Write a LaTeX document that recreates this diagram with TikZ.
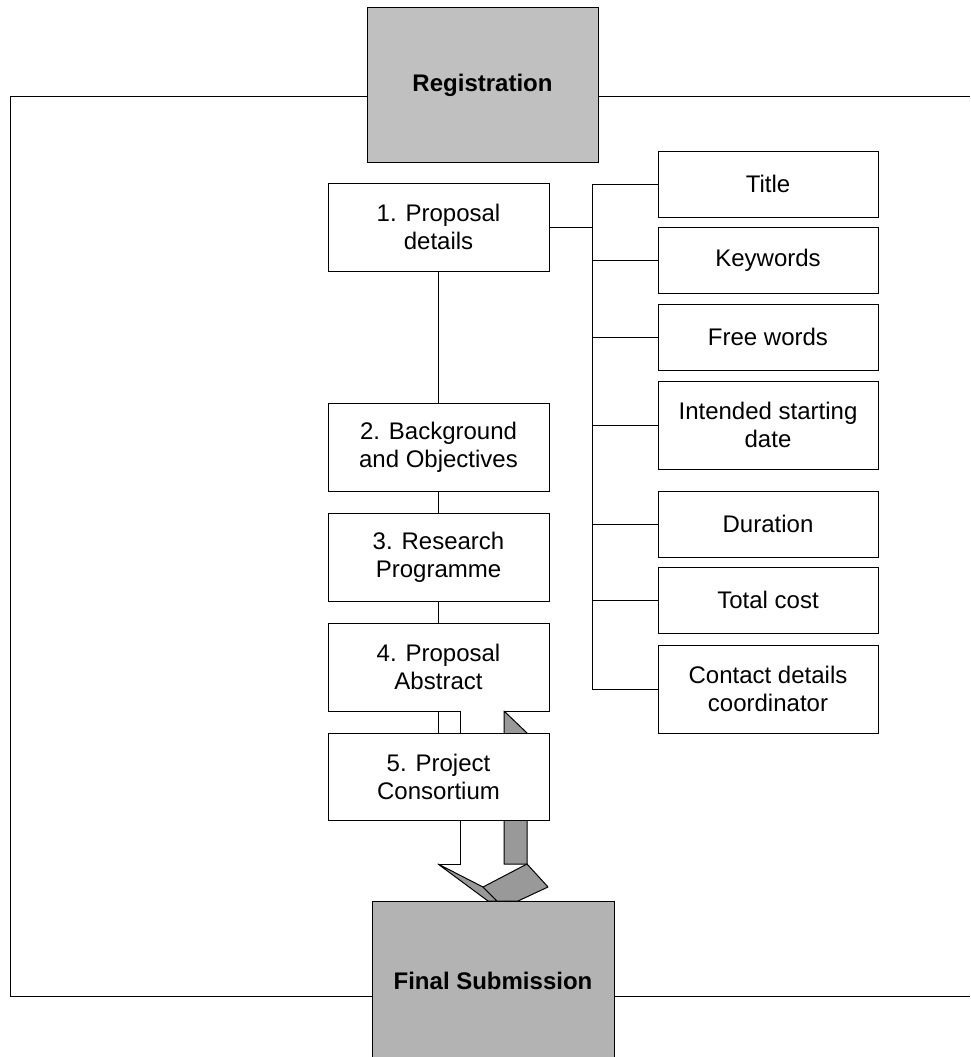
\documentclass[tikz,border=0pt]{standalone}
\usepackage{fontspec}
\setmainfont{Liberation Sans}
\begin{document}
\begin{tikzpicture}[x=1pt,y=-1pt,
  box/.style={draw=black,line width=1pt,fill=white,minimum width=221pt,minimum height=88pt,
    align=center,inner sep=0pt,font=\fontsize{24}{28}\selectfont},
  rbox/.style={box,minimum width=220pt},
  gbox/.style={draw=black,line width=1pt,inner sep=0pt,font=\fontsize{24}{28}\selectfont\bfseries},
  ln/.style={draw=black,line width=1pt},
  side/.style={draw=black,line width=1pt,fill=arrgray,line join=round}]
\definecolor{arrgray}{HTML}{999999}
\definecolor{regfill}{HTML}{C0C0C0}
\definecolor{finfill}{HTML}{B3B3B3}
\useasboundingbox (0,0) rectangle (970,1057);

% frame corners
\coordinate (tl) at (10,96);
\coordinate (bl) at (10,996);
\coordinate (tr) at (970,96);
\coordinate (br) at (970,996);
\coordinate (bus) at (592,0);

% registration / final submission (positions)
\node[gbox,fill=regfill,minimum width=231pt,minimum height=154pt] (reg) at (482.5,85) {Registration};
\node[gbox,fill=finfill,minimum width=242pt,minimum height=160pt] (fin) at (493,981) {Final Submission};

\draw[ln] (reg.west |- tl) -- (tl) -- (bl) -- (fin.west |- bl);
\draw[ln] (reg.east |- tr) -- (tr);
\draw[ln] (fin.east |- br) -- (br);
% redraw box on top of frame
\node[gbox,fill=regfill,minimum width=231pt,minimum height=154pt] at (reg) {Registration};

% left column
\node[box] (p1) at (438.5,227) {1. Proposal\\details};
\node[box] (p2) at (438.5,447) {2. Background\\and Objectives};
\node[box] (p3) at (438.5,557) {3. Research\\Programme};
\node[box] (p4) at (438.5,667) {4. Proposal\\Abstract};

% chain connectors
\draw[ln] (p1.south) -- (p2.north);
\draw[ln] (p2.south) -- (p3.north);
\draw[ln] (p3.south) -- (p4.north);

% 3D block arrow
\coordinate (a1) at (460,711);
\coordinate (a2) at (504,711);
\coordinate (a3) at (527,733);
\coordinate (a4) at (527,864);
\coordinate (a5) at (504,864);
\coordinate (a6) at (460,864);
\coordinate (a7) at (438,864);
\coordinate (a8) at (483,887);
\coordinate (a9) at (548,887);
\coordinate (a10) at (518,901);
\coordinate (a11) at (497,901);
\coordinate (a12) at (488,901);
\path[fill=white] (a1) -- (a6) -- (a7) -- (a8) -- (a4) -- (a5) -- (a2) -- cycle;
\draw[ln] (a1) -- (a6) -- (a7);
\draw[side] (a2) -- (a3) -- (a4) -- (a5) -- cycle;
\draw[side] (a7) -- (a8) -- (a11) -- (a12) -- cycle;
\draw[side] (a8) -- (a4) -- (a9) -- (a10) -- (a11) -- cycle;

\node[box,minimum height=87pt] (p5) at (438.5,776.5) {5. Project\\Consortium};
\draw[ln] (p4.south) -- (p5.north);

% final submission on top of arrow
\node[gbox,fill=finfill,minimum width=242pt,minimum height=160pt] at (fin) {Final Submission};

% right column
\node[rbox,minimum height=66pt] (title) at (768,184) {Title};
\node[rbox,minimum height=66pt] (kw) at (768,260.5) {Keywords};
\node[rbox,minimum height=66pt] (fw) at (768,337) {Free words};
\node[rbox] (isd) at (768,425) {Intended starting\\date};
\node[rbox,minimum height=66pt] (dur) at (768,524) {Duration};
\node[rbox,minimum height=66pt] (tc) at (768,600) {Total cost};
\node[rbox] (cd) at (768,689) {Contact details\\coordinator};

% bus
\draw[ln] (p1.east) -- (p1.east -| bus);
\draw[ln] (title.west -| bus) -- (cd.west -| bus);
\foreach \n in {title,kw,fw,isd,dur,tc,cd}
  \draw[ln] (\n.west) -- (\n.west -| bus);
\end{tikzpicture}
\end{document}
